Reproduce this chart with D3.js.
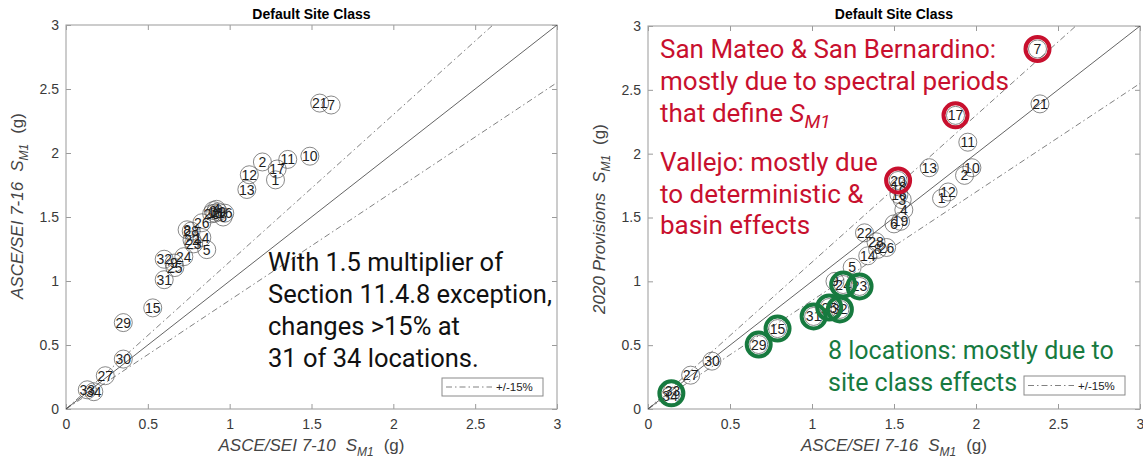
<!DOCTYPE html>
<html>
<head>
<meta charset="utf-8">
<script src="https://cdn.jsdelivr.net/npm/d3@7"></script>
<style>
  body { margin: 0; background: #fff; }
  svg { display: block; }
</style>
</head>
<body>
<svg id="chart" width="1143" height="464"></svg>
<script>
// Location numbers and spectral acceleration S_M1 (g) at each location
const locationIds = [1, 2, 3, 4, 5, 6, 7, 8, 9, 10, 11, 12, 13, 14, 15, 16, 17,
                     18, 19, 20, 21, 22, 23, 24, 25, 26, 27, 28, 29, 30, 31, 32, 33, 34];
const sm1_asce710 = [1.28, 1.20, 0.90, 0.92, 0.86, 0.96, 1.62, 0.74, 0.66, 1.49, 1.355, 1.12, 1.105, 0.83, 0.53, 0.97, 1.29,
                     0.91, 0.93, 0.89, 1.55, 0.77, 0.78, 0.72, 0.665, 0.83, 0.24, 0.765, 0.35, 0.35, 0.60, 0.60, 0.13, 0.17];
const sm1_asce716 = [1.79, 1.93, 1.55, 1.56, 1.245, 1.50, 2.375, 1.40, 1.14, 1.975, 1.95, 1.83, 1.715, 1.34, 0.79, 1.53, 1.875,
                     1.53, 1.54, 1.525, 2.39, 1.32, 1.29, 1.19, 1.105, 1.455, 0.26, 1.39, 0.675, 0.39, 1.01, 1.17, 0.15, 0.135];
const sm1_2020 =    [1.65, 1.83, 1.64, 1.56, 1.11, 1.45, 2.82, 1.25, 1.00, 1.89, 2.09, 1.70, 1.89, 1.20, 0.63, 1.68, 2.30,
                     1.74, 1.47, 1.79, 2.39, 1.38, 0.96, 0.975, 0.795, 1.265, 0.265, 1.31, 0.505, 0.375, 0.725, 0.78, 0.145, 0.10];

const tickValues = [0, 0.5, 1, 1.5, 2, 2.5, 3];
const axisMax = 3;
const bandFactors = [1.15, 0.85];     // +/-15% reference lines
const legendLabel = "+/-15%";
const panelTitle = "Default Site Class";

// Highlighted groups on the 2020 panel (each ring drawn at the group's mean position)
const spectralGroups = [[7], [17]];
const basinGroups = [[20]];
const siteClassGroups = [[33, 34], [29], [15], [31], [25], [32], [24], [23]];

const RED = "#c8102e";
const GREEN = "#177a3f";
const LABEL_FONT = "'Liberation Sans', Arial, sans-serif";
const NOTE_FONT = "Roboto, 'Open Sans', sans-serif";

const svg = d3.select("#chart");

function drawPanel(cfg) {
  const x = d3.scaleLinear().domain([0, axisMax]).range([cfg.left, cfg.right]);
  const y = d3.scaleLinear().domain([0, axisMax]).range([cfg.bottom, cfg.top]);
  const g = svg.append("g");

  // clip for reference lines
  const clipId = "clip-" + cfg.name;
  g.append("clipPath").attr("id", clipId).append("rect")
    .attr("x", cfg.left).attr("y", cfg.top)
    .attr("width", cfg.right - cfg.left).attr("height", cfg.bottom - cfg.top);

  // axes with inward ticks on all four sides
  const fmt = d => String(d);
  const axes = [
    [d3.axisBottom(x).tickValues(tickValues).tickFormat(fmt).tickSizeInner(-5).tickSizeOuter(0).tickPadding(10), `translate(0,${cfg.bottom})`],
    [d3.axisLeft(y).tickValues(tickValues).tickFormat(fmt).tickSizeInner(-5).tickSizeOuter(0).tickPadding(7), `translate(${cfg.left},0)`],
    [d3.axisTop(x).tickValues(tickValues).tickFormat("").tickSizeInner(-5).tickSizeOuter(0), `translate(0,${cfg.top})`],
    [d3.axisRight(y).tickValues(tickValues).tickFormat("").tickSizeInner(-5).tickSizeOuter(0), `translate(${cfg.right},0)`]
  ];
  axes.forEach(([ax, tr]) => {
    const a = g.append("g").attr("transform", tr).call(ax);
    a.select(".domain").remove();
    a.selectAll(".tick line").attr("stroke", "#9a9a9a").attr("stroke-width", 1);
    a.selectAll("text").attr("fill", "#3a3a3a").style("font-family", LABEL_FONT).style("font-size", "14px");
  });
  g.append("rect")
    .attr("x", cfg.left).attr("y", cfg.top)
    .attr("width", cfg.right - cfg.left).attr("height", cfg.bottom - cfg.top)
    .attr("fill", "none").attr("stroke", "#a3a3a3").attr("stroke-width", 1.1);

  // 1:1 line and +/-15% lines
  const lines = g.append("g").attr("clip-path", `url(#${clipId})`);
  lines.append("line")
    .attr("x1", x(0)).attr("y1", y(0)).attr("x2", x(axisMax)).attr("y2", y(axisMax))
    .attr("stroke", "#3c3c3c").attr("stroke-width", 0.8);
  bandFactors.forEach(f => {
    const xe = Math.min(axisMax, axisMax / f);
    lines.append("line")
      .attr("x1", x(0)).attr("y1", y(0)).attr("x2", x(xe)).attr("y2", y(xe * f))
      .attr("stroke", "#4a4a4a").attr("stroke-width", 0.7)
      .attr("stroke-dasharray", "6,3,1.5,3");
  });

  // numbered location markers
  const pts = locationIds.map((id, i) => ({ id, xv: cfg.xs[i], yv: cfg.ys[i] }));
  const mk = g.append("g");
  mk.selectAll("circle").data(pts).join("circle")
    .attr("cx", d => x(d.xv)).attr("cy", d => y(d.yv)).attr("r", 9)
    .attr("fill", "none").attr("stroke", "#555").attr("stroke-width", 0.7);
  mk.selectAll("text").data(pts).join("text")
    .attr("x", d => x(d.xv)).attr("y", d => y(d.yv)).attr("dy", "0.36em")
    .attr("text-anchor", "middle")
    .style("font-family", LABEL_FONT).style("font-size", "14px").attr("fill", "#1e1e1e")
    .text(d => d.id);

  // highlight rings
  (cfg.rings || []).forEach(r => {
    r.groups.forEach(grp => {
      const idx = grp.map(id => locationIds.indexOf(id));
      const cx = d3.mean(idx, i => x(cfg.xs[i]));
      const cy = d3.mean(idx, i => y(cfg.ys[i]));
      g.append("circle").attr("cx", cx).attr("cy", cy).attr("r", r.radius)
        .attr("fill", "none").attr("stroke", r.color).attr("stroke-width", 4);
    });
  });

  // title
  g.append("text").attr("x", (cfg.left + cfg.right) / 2).attr("y", 19)
    .attr("text-anchor", "middle").style("font-family", LABEL_FONT)
    .style("font-size", "14px").style("font-weight", "bold").attr("fill", "#000")
    .text(panelTitle);

  // axis titles: italic name, S with subscript M1, units
  function axisTitle(sel, name) {
    sel.style("font-family", LABEL_FONT).style("font-size", "17px").attr("fill", "#444")
      .attr("text-anchor", "middle");
    sel.append("tspan").style("font-style", "italic").text(name);
    sel.append("tspan").style("font-style", "italic").attr("dx", 10).text("S");
    sel.append("tspan").style("font-style", "italic").style("font-size", "12px").attr("dy", 5).text("M1");
    sel.append("tspan").attr("dy", -5).attr("dx", 10).text("(g)");
  }
  axisTitle(g.append("text").attr("x", (cfg.left + cfg.right) / 2).attr("y", 451), cfg.xTitle);
  axisTitle(g.append("text").attr("transform", `translate(${cfg.yTitleX},${cfg.yTitleY}) rotate(-90)`), cfg.yTitle);

  // legend
  const lg = g.append("g");
  lg.append("rect").attr("x", cfg.legend[0]).attr("y", cfg.legend[1])
    .attr("width", cfg.legend[2]).attr("height", cfg.legend[3])
    .attr("fill", "#fff").attr("stroke", "#8a8a8a").attr("stroke-width", 1);
  const ly = cfg.legend[1] + cfg.legend[3] / 2;
  lg.append("line").attr("x1", cfg.legend[0] + 4).attr("x2", cfg.legend[0] + 50)
    .attr("y1", ly).attr("y2", ly)
    .attr("stroke", "#4a4a4a").attr("stroke-width", 0.7).attr("stroke-dasharray", "6,3,1.5,3");
  lg.append("text").attr("x", cfg.legend[0] + 54).attr("y", ly).attr("dy", "0.35em")
    .style("font-family", LABEL_FONT).style("font-size", "11.5px").attr("fill", "#222")
    .text(legendLabel);

  return g;
}

function note(g, x0, lines, baseline0, step, color, size) {
  lines.forEach((ln, i) => {
    const t = g.append("text").attr("x", x0).attr("y", baseline0 + i * step)
      .style("font-family", NOTE_FONT).style("font-size", size + "px").attr("fill", color);
    if (typeof ln === "string") {
      t.text(ln);
    } else {
      ln.forEach(part => {
        const s = t.append("tspan").text(part.t);
        if (part.italic) s.style("font-style", "italic");
        if (part.sub) s.attr("dy", 6).style("font-size", (size * 0.72) + "px");
      });
    }
  });
}

// Left panel: ASCE/SEI 7-10 vs 7-16
const gl = drawPanel({
  name: "left", left: 66, right: 557, top: 25, bottom: 409,
  xs: sm1_asce710, ys: sm1_asce716,
  xTitle: "ASCE/SEI 7-10", yTitle: "ASCE/SEI 7-16",
  yTitleX: 23, yTitleY: 206,
  legend: [442, 378, 101, 18]
});
note(gl, 268, [
  "With 1.5 multiplier of",
  "Section 11.4.8 exception,",
  "changes >15% at",
  "31 of 34 locations."
], 271, 32, "#111", 25.5);

// Right panel: ASCE/SEI 7-16 vs 2020 Provisions
const gr = drawPanel({
  name: "right", left: 648, right: 1140, top: 26, bottom: 409,
  xs: sm1_asce716, ys: sm1_2020,
  xTitle: "ASCE/SEI 7-16", yTitle: "2020 Provisions",
  yTitleX: 605, yTitleY: 219,
  legend: [1024, 376, 101, 19],
  rings: [
    { groups: spectralGroups, color: RED, radius: 12 },
    { groups: basinGroups, color: RED, radius: 12 },
    { groups: siteClassGroups, color: GREEN, radius: 12 }
  ]
});
note(gr, 660, [
  "San Mateo & San Bernardino:",
  "mostly due to spectral periods",
  [{ t: "that define " }, { t: "S", italic: true }, { t: "M1", italic: true, sub: true }]
], 58, 32, RED, 26);
note(gr, 660, [
  "Vallejo: mostly due",
  "to deterministic &",
  "basin effects"
], 171, 31.5, RED, 26);
note(gr, 828, [
  "8 locations: mostly due to",
  "site class effects"
], 359, 32, GREEN, 25);
</script>
</body>
</html>
